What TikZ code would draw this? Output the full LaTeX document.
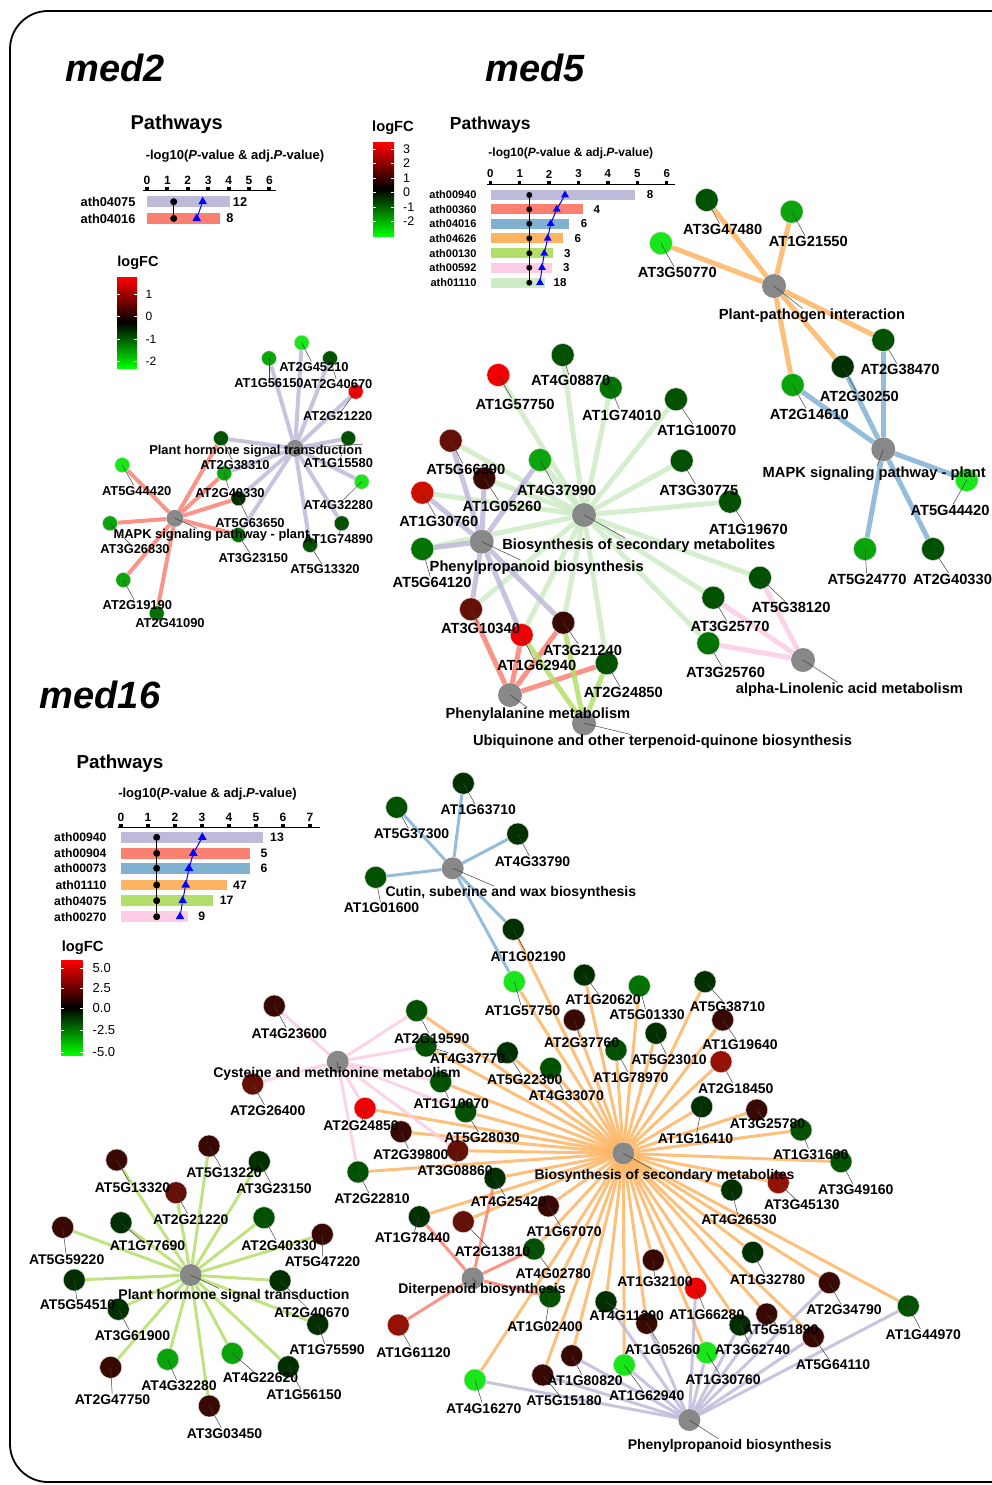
\documentclass[tikz,border=0pt]{standalone}
\usepackage{fontspec}
\setmainfont{Liberation Sans}
\usetikzlibrary{positioning,backgrounds,shapes.geometric}

% pathway palette
\definecolor{lav}{HTML}{BEBADA}
\definecolor{sal}{HTML}{FB8072}
\definecolor{blu}{HTML}{80B1D3}
\definecolor{ora}{HTML}{FDB462}
\definecolor{grn}{HTML}{B3DE69}
\definecolor{pnk}{HTML}{FCCDE5}
\definecolor{mnt}{HTML}{CCEBC5}
% logFC scale
\definecolor{gA}{RGB}{25,230,25}
\definecolor{gB}{RGB}{10,165,10}
\definecolor{gC}{RGB}{0,115,0}
\definecolor{gD}{RGB}{0,82,0}
\definecolor{gE}{RGB}{0,48,0}
\definecolor{rA}{RGB}{58,8,2}
\definecolor{rB}{RGB}{100,16,6}
\definecolor{rC}{RGB}{150,16,4}
\definecolor{rX}{RGB}{205,15,0}
\definecolor{rD}{RGB}{242,0,0}
\definecolor{pwgray}{RGB}{136,136,136}

\tikzset{
  gene/.style={circle, fill=#1, draw=white!70!gray, line width=0.5pt, inner sep=0pt},
  gtwo/.style={gene=#1, minimum size=15pt},
  gfive/.style={gene=#1, minimum size=23pt},
  gsix/.style={gene=#1, minimum size=22pt},
  pw/.style={circle, fill=pwgray, inner sep=0pt, minimum size=#1},
  labtwo/.style={font=\fontsize{12.9}{15}\selectfont\bfseries, inner sep=0.5pt},
  labfive/.style={font=\fontsize{14.7}{17}\selectfont\bfseries, inner sep=0.5pt},
  labsix/.style={font=\fontsize{14}{16}\selectfont\bfseries, inner sep=0.5pt},
  lead/.style={draw=black!75, line width=0.5pt},
  conn/.style={line width=#1, opacity=0.85},
  medtitle/.style={font=\fontsize{38}{40}\selectfont\bfseries\itshape},
  dot/.style={circle, fill=black, inner sep=0pt, minimum size=7pt},
  tri/.style={regular polygon, regular polygon sides=3, fill=blue, inner sep=0pt, minimum size=10pt},
  legval/.style={anchor=west, inner sep=0pt},
  fcbar/.style={top color=red, bottom color=green, middle color=black},
}

\begin{document}
\begin{tikzpicture}[x=1pt, y=-1pt]
\useasboundingbox (0,0) rectangle (992,1485);
\clip (0,0) rectangle (992,1485);
\draw[line width=1.8pt, rounded corners=38pt] (10,11) rectangle (1030,1482);

\node[medtitle] (t-med2) at (115,68) {med2};
\node[medtitle] (t-med5) at (535,68) {med5};
\node[medtitle] (t-med16) at (100,695) {med16};

% ---------------- med2 ----------------
\node[font=\fontsize{20}{22}\selectfont\bfseries] (m2-ttl) at (176.7,124) {Pathways};
\node[font=\fontsize{13}{15}\selectfont\bfseries] (m2-sub) at (235,155.7) {-log10(\textit{P}-value \& adj.\textit{P}-value)};
\draw[line width=1pt] (143,190.5) -- (276,190.5);
\foreach \n in {0,...,6} {
  \fill ({147+20.4*\n-2},186.5) rectangle ++(4,4);
  \node[font=\fontsize{12}{14}\selectfont\bfseries] at ({147+20.4*\n},180.5) {\n};
}
\foreach \lab/\y/\e/\cnt/\cx/\tx/\col in {ath04075/201.7/230/12/240/202.7/lav, ath04016/218.5/220/8/230/196.7/sal} {
  \fill[\col] (147,\y-5.5) rectangle (\e,\y+5.5);
  \node[font=\fontsize{12.8}{14}\selectfont\bfseries, anchor=east] (m2-r-\lab) at (139,\y) {\lab};
  \node[font=\fontsize{12.8}{14}\selectfont\bfseries] (m2-c-\lab) at (\cx,\y) {\cnt};
  \node[dot] (m2-d-\lab) at (173.7,\y) {};
  \node[tri] (m2-t-\lab) at (\tx,\y) {};
}
\draw[line width=1.2pt] (m2-d-ath04075) -- (m2-d-ath04016);
\draw[blue, line width=1pt] (m2-t-ath04075) -- (m2-t-ath04016);

\node[font=\fontsize{14.5}{16}\selectfont\bfseries] (m2-lfc) at (138,263) {logFC};
\shade[fcbar] (117,277) rectangle (137,368);
\foreach \v/\y in {1/294,0/316.5,-1/339,-2/361.5} {
  \draw[white, line width=0.4pt] (117,\y) -- (120,\y) (134,\y) -- (137,\y);
  \node[legval, font=\fontsize{12}{14}\selectfont] at (145.5,\y) {\v};
}

\def\genesTwo{AT2G45210/301.7/342.7/gA/314/366.7,%
AT1G56150/269/358.3/gB/269/383.3,%
AT2G40670/330/358.3/gD/337.7/384,%
AT2G21220/355.7/391.7/rD/337.7/416,%
AT2G38310/221/438.3/gD/235/465,%
AT2G40330/224.3/473.3/gB/230/493.3,%
AT5G63650/238.3/498.3/gE/250/522.7,%
AT3G23150/238.3/535/gC/253.3/558.3,%
AT1G15580/348.3/438.3/gD/338.3/463.3,%
AT4G32280/361.7/481.7/gA/338.3/505,%
AT1G74890/341.7/523.3/gD/338.3/539.3,%
AT5G13320/310/545/gD/325/569.3,%
AT5G44420/122.3/465/gA/136.7/490.7,%
AT3G26830/110/523.3/gB/135/549.3,%
AT2G19190/123.3/580/gB/137.3/605.3,%
AT2G41090/156.7/613.3/gC/170/622.7}
\foreach \gn/\x/\y/\c/\lx/\ly in \genesTwo
  \node[gtwo=\c] (m2-\gn) at (\x,\y) {};
\node[pw=17pt] (m2-PH) at (295,448.3) {};
\node[pw=17pt] (m2-MK) at (175,518.3) {};
\node[labtwo] (m2-PH-l) at (255.7,450.7) {Plant hormone signal transduction};
\node[labtwo] (m2-MK-l) at (211.5,535) {MAPK signaling pathway - plant};
\draw[lead] (m2-PH.center) -- (m2-PH-l);
\draw[lead] (m2-MK.center) -- (m2-MK-l);
\foreach \gn/\x/\y/\c/\lx/\ly in \genesTwo {
  \node[labtwo] (m2-\gn-l) at (\lx,\ly) {\gn};
  \draw[lead] (m2-\gn.center) -- (m2-\gn-l);
}
\begin{scope}[on background layer]
  \foreach \g in {AT2G45210,AT1G56150,AT2G40670,AT2G21220,AT2G38310,AT2G40330,AT5G63650,AT3G23150,AT1G15580,AT4G32280,AT1G74890,AT5G13320}
    \draw[conn=4pt, lav] (m2-PH) -- (m2-\g);
  \foreach \g in {AT5G44420,AT3G26830,AT2G19190,AT2G41090,AT2G38310,AT2G40330,AT5G63650,AT3G23150}
    \draw[conn=4pt, sal] (m2-MK) -- (m2-\g);
\end{scope}

% ---------------- med5 ----------------
\node[font=\fontsize{14.7}{16}\selectfont\bfseries] (m5-lfc) at (393,128) {logFC};
\shade[fcbar] (373,142) rectangle (394,236);
\foreach \v/\y in {3/149.3,2/163.3,1/177.7,0/191.7,-1/206.7,-2/221} {
  \draw[white, line width=0.4pt] (373,\y) -- (376,\y) (391,\y) -- (394,\y);
  \node[legval, font=\fontsize{12.5}{13}\selectfont] at (403,\y) {\v};
}
\node[font=\fontsize{17.5}{20}\selectfont\bfseries] (m5-ttl) at (490.3,125) {Pathways};
\node[font=\fontsize{12}{14}\selectfont\bfseries] (m5-sub) at (570.8,153.3) {-log10(\textit{P}-value \& adj.\textit{P}-value)};
\draw[line width=1pt] (487,184) -- (675,184);
\foreach \n in {0,...,6} {
  \fill ({490.3+29.4*\n-1.75},180.5) rectangle ++(3.5,3.5);
  \node[font=\fontsize{11.5}{13}\selectfont\bfseries] at ({490.3+29.4*\n},174) {\n};
}
\foreach \lab/\y/\e/\cnt/\cx/\tx/\col in {ath00940/195/635/8/650/565/lav, ath00360/209.3/582.7/4/596.7/556.7/sal, ath04016/223.7/569.3/6/584/550.7/blu, ath04626/238.3/563.3/6/577.7/547.7/ora, ath00130/253.3/552.7/3/567.3/544.3/grn, ath00592/267.7/551.7/3/566.3/542/pnk, ath01110/282.7/545.3/18/560/540/mnt} {
  \fill[\col] (490.5,\y-5) rectangle (\e,\y+5);
  \node[font=\fontsize{11}{13}\selectfont\bfseries, anchor=east] (m5-r-\lab) at (480,\y) {\lab};
  \node[font=\fontsize{11.5}{13}\selectfont\bfseries] (m5-c-\lab) at (\cx,\y) {\cnt};
  \node[dot, minimum size=6pt] (m5-d-\lab) at (529.3,\y) {};
  \node[tri, minimum size=9pt] (m5-t-\lab) at (\tx,\y) {};
}
\draw[line width=1.2pt] (m5-d-ath00940) -- (m5-d-ath01110);
\draw[blue, line width=1pt] (m5-t-ath00940) -- (m5-t-ath00360) -- (m5-t-ath04016) -- (m5-t-ath04626) -- (m5-t-ath00130) -- (m5-t-ath00592) -- (m5-t-ath01110);

\def\genesFive{AT3G47480/706.7/200/gD/722.7/229.3,%
AT1G21550/791.7/211.7/gB/808.3/241.7,%
AT3G50770/661/243.3/gA/677.3/272.7,%
AT2G38470/883.3/340/gD/900/369.3,%
AT2G30250/842.7/366.7/gE/859.3/396.7,%
AT2G14610/792.7/385/gB/809.3/414.3,%
AT5G44420/966.7/480/gA/950/510,%
AT5G24770/865/549/gB/867/579,%
AT2G40330/933/549/gD/952.5/579,%
AT4G08870/562.7/355/gD/570.7/380.7,%
AT1G57750/498.3/375/rD/515/404,%
AT1G74010/610.7/387.7/gC/621.7/415,%
AT1G10070/676/399.3/gD/696.7/430,%
AT5G66390/450.7/440.7/rB/465.8/469.3,%
AT1G05260/484.3/478.3/rA/502/506,%
AT4G37990/540/460/gB/556.7/490,%
AT1G30760/422.3/492.7/rX/438.8/521.7,%
AT3G30775/681.7/460.7/gD/698.8/490,%
AT1G19670/730/501.7/gD/748.3/529.3,%
AT5G64120/422.3/549/gC/432/582.7,%
AT3G10340/471/609.3/rB/480.5/628.3,%
AT1G62940/521.7/635/rD/536.7/665,%
AT3G21240/563.3/622.7/rA/582.5/650,%
AT2G24850/606.7/663.3/gD/623.3/692.7,%
AT5G38120/760/577.7/gD/791/607,%
AT3G25770/713.3/597.7/gD/730/626.7,%
AT3G25760/708.3/643.3/gC/725.5/672.7}
\foreach \gn/\x/\y/\c/\lx/\ly in \genesFive
  \node[gfive=\c] (m5-\gn) at (\x,\y) {};
\foreach \p/\x/\y/\lx/\ly/\txt in {PPI/774/286/812/316/Plant-pathogen interaction, MK/883.3/449.3/874.2/474/MAPK signaling pathway - plant, BS/584/515/638.8/545.7/Biosynthesis of secondary metabolites, PP/481.7/541.7/536.7/567.7/Phenylpropanoid biosynthesis, PA/510/695/538/715/Phenylalanine metabolism, UQ/584/723.3/662.5/742/Ubiquinone and other terpenoid-quinone biosynthesis, AL/803/660/849.5/690/alpha-Linolenic acid metabolism} {
  \node[pw=24pt] (m5-\p) at (\x,\y) {};
}
\foreach \p/\x/\y/\lx/\ly/\txt in {PPI/774/286/812/316/Plant-pathogen interaction, MK/883.3/449.3/874.2/474/MAPK signaling pathway - plant, BS/584/515/638.8/545.7/Biosynthesis of secondary metabolites, PP/481.7/541.7/536.7/567.7/Phenylpropanoid biosynthesis, PA/510/695/538/715/Phenylalanine metabolism, UQ/584/723.3/662.5/742/Ubiquinone and other terpenoid-quinone biosynthesis, AL/803/660/849.5/690/alpha-Linolenic acid metabolism} {
  \node[labfive] (m5-\p-l) at (\lx,\ly) {\txt};
  \draw[lead] (m5-\p.center) -- (m5-\p-l);
}
\foreach \gn/\x/\y/\c/\lx/\ly in \genesFive {
  \node[labfive] (m5-\gn-l) at (\lx,\ly) {\gn};
  \draw[lead] (m5-\gn.center) -- (m5-\gn-l);
}
\begin{scope}[on background layer]
  \foreach \g in {AT4G08870,AT1G57750,AT1G74010,AT1G10070,AT5G66390,AT1G05260,AT4G37990,AT1G30760,AT3G30775,AT1G19670,AT5G64120,AT3G10340,AT1G62940,AT3G21240,AT2G24850,AT5G38120,AT3G25770,AT3G25760}
    \draw[conn=5pt, mnt] (m5-BS) -- (m5-\g);
  \foreach \g in {AT5G66390,AT1G05260,AT4G37990,AT1G30760,AT5G64120,AT3G10340,AT1G62940,AT3G21240}
    \draw[conn=5pt, lav] (m5-PP) -- (m5-\g);
  \foreach \g in {AT3G10340,AT1G62940,AT3G21240,AT2G24850}
    \draw[conn=5pt, sal] (m5-PA) -- (m5-\g);
  \foreach \g in {AT1G62940,AT3G21240,AT2G24850}
    \draw[conn=5pt, grn] (m5-UQ) -- (m5-\g);
  \foreach \g in {AT5G38120,AT3G25770,AT3G25760}
    \draw[conn=5pt, pnk] (m5-AL) -- (m5-\g);
  \foreach \g in {AT3G47480,AT1G21550,AT3G50770,AT2G38470,AT2G30250,AT2G14610}
    \draw[conn=5pt, ora] (m5-PPI) -- (m5-\g);
  \foreach \g in {AT2G38470,AT2G30250,AT2G14610,AT5G44420,AT5G24770,AT2G40330}
    \draw[conn=5pt, blu] (m5-MK) -- (m5-\g);
\end{scope}

% ---------------- med16 ----------------
\node[font=\fontsize{18.8}{21}\selectfont\bfseries] (m16-ttl) at (120,764) {Pathways};
\node[font=\fontsize{13}{15}\selectfont\bfseries] (m16-sub) at (207.5,794) {-log10(\textit{P}-value \& adj.\textit{P}-value)};
\draw[line width=1pt] (118,827.3) -- (320,827.3);
\foreach \n in {0,...,7} {
  \fill ({121+27*\n-1.75},823.8) rectangle ++(3.5,3.5);
  \node[font=\fontsize{12}{14}\selectfont\bfseries] at ({121+27*\n},817.5) {\n};
}
\foreach \lab/\y/\e/\cnt/\cx/\tx/\col in {ath00940/837.3/263.3/13/277/202.3/lav, ath00904/853.3/250/5/264/193.3/sal, ath00073/868.3/250/6/264/189/blu, ath01110/885/226.7/47/240/185.7/ora, ath04075/900.7/213.3/17/226.7/182.7/grn, ath00270/916.7/187.7/9/201.7/180/pnk} {
  \fill[\col] (121,\y-5.3) rectangle (\e,\y+5.3);
  \node[font=\fontsize{12.2}{14}\selectfont\bfseries, anchor=east] (m16-r-\lab) at (110,\y) {\lab};
  \node[font=\fontsize{12.2}{14}\selectfont\bfseries] (m16-c-\lab) at (\cx,\y) {\cnt};
  \node[dot] (m16-d-\lab) at (156.7,\y) {};
  \node[tri] (m16-t-\lab) at (\tx,\y) {};
}
\draw[line width=1.2pt] (m16-d-ath00940) -- (m16-d-ath00270);
\draw[blue, line width=1pt] (m16-t-ath00940) -- (m16-t-ath00904) -- (m16-t-ath00073) -- (m16-t-ath01110) -- (m16-t-ath04075) -- (m16-t-ath00270);

\node[font=\fontsize{14.7}{16}\selectfont\bfseries] (m16-lfc) at (82.7,947.3) {logFC};
\shade[fcbar] (61,960) rectangle (82.7,1055);
\foreach \v/\y in {5.0/967.7,2.5/988,0.0/1008,-2.5/1030,-5.0/1051.7} {
  \draw[white, line width=0.4pt] (61,\y) -- (64,\y) (79.7,\y) -- (82.7,\y);
  \node[legval, font=\fontsize{13}{15}\selectfont] at (92.5,\y) {\v};
}

\def\genesSix{AT1G63710/463.3/783.3/gE/478.3/810,%
AT5G37300/396.7/807.3/gD/411.5/834,%
AT4G33790/517.7/834/gE/532.5/861.7,%
AT1G01600/375.7/877.3/gD/381.5/907.7,%
AT1G02190/513.3/929.3/gE/528.3/956.7,%
AT1G57750/514.3/981.7/gA/522.5/1010.7,%
AT4G23600/274.3/1006/rA/289.3/1033.3,%
AT2G26400/252.7/1084/rB/267.7/1110.7,%
AT2G19590/416.7/1010.7/gD/431.7/1038.3,%
AT4G37770/426/1046/gD/467.5/1058.3,%
AT1G10070/440.7/1081.7/gD/451.3/1104,%
AT2G24850/365/1108.3/rD/361/1125.7,%
AT5G28030/465.7/1111.7/gD/482/1137.7,%
AT2G39800/401/1131.7/rA/410.8/1154.3,%
AT3G08860/457.7/1150.7/rB/455/1170.7,%
AT5G22300/507.3/1052.7/gE/524.8/1080,%
AT4G33070/550.7/1068.3/gD/566.2/1096,%
AT2G22810/358/1172/gD/372/1199,%
AT2G37760/574.3/1020/rA/581.7/1042.7,%
AT1G20620/584.3/975/gE/603/1000,%
AT5G01330/639.3/986/gC/647/1015,%
AT5G38710/705/981.7/gE/727.5/1006.7,%
AT1G78970/616/1050/gD/630.8/1077.3,%
AT5G23010/656/1033.3/gE/669/1060,%
AT1G19640/722.7/1020/rA/740/1045,%
AT2G18450/721/1061.7/rC/735.8/1088.3,%
AT1G16410/701.7/1106.7/gE/695.5/1139,%
AT3G25780/756.7/1110/rA/767.5/1123.3,%
AT1G31690/801/1130/gD/810.8/1154.3,%
AT3G49160/841/1161.7/gD/855.8/1189.3,%
AT3G45130/778.3/1182.7/rC/801.7/1205,%
AT4G26530/731.7/1190/gE/739/1220,%
AT1G32780/752.7/1252.3/gE/767.5/1280,%
AT1G32100/653.3/1260/rA/655/1281.7,%
AT1G66280/695.7/1288.3/rD/706.7/1314.3,%
AT2G34790/829.3/1282.7/rA/844/1310,%
AT1G44970/908.3/1306/gD/923.3/1334.3,%
AT4G11290/606/1301.7/gE/626.7/1316,%
AT1G05260/646.7/1323.3/rA/662.5/1349.3,%
AT5G51890/766.7/1314/rA/780.8/1329.3,%
AT3G62740/740/1325/gE/752.5/1350,%
AT5G64110/813.3/1336.7/rA/833/1365,%
AT1G30760/706.7/1352.7/gA/723/1380,%
AT1G62940/624.3/1365/gA/646.7/1395.7,%
AT4G25420/495/1178.3/gE/508.3/1201.7,%
AT1G67070/548.3/1206/rA/564/1231.7,%
AT1G78440/419.3/1216.7/gE/412.5/1237.3,%
AT2G13810/463.3/1221.7/rB/492.5/1251.7,%
AT4G02780/534/1249/gD/553.3/1274,%
AT1G02400/550/1296.7/gD/545/1326.7,%
AT1G61120/398.3/1325/rC/413.5/1352.3,%
AT4G16270/475/1380/gA/483.8/1408.3,%
AT5G15180/542.7/1375/rA/564/1400.7,%
AT1G80820/571.7/1355.7/rA/585/1380.7,%
AT5G13320/116.7/1160/rA/132.5/1187.7,%
AT5G13220/209/1146/rA/224/1172.7,%
AT3G23150/259.3/1161.7/gE/274/1189,%
AT2G21220/176/1192.7/rB/190.8/1219.3,%
AT1G77690/121/1222.7/gE/147.5/1245.7,%
AT5G59220/62.7/1227.3/rA/66.7/1259.3,%
AT2G40330/264/1217.7/gD/279/1245.7,%
AT5G47220/322.3/1234.3/rA/322.5/1261.7,%
AT5G54510/74.3/1280/gE/77.5/1305,%
AT2G40670/280/1280.7/gE/311.7/1312.3,%
AT3G61900/118.3/1309.3/gE/132.5/1336,%
AT1G75590/317.7/1324.3/gE/327/1350,%
AT2G47750/110.7/1367.3/rA/112.5/1400,%
AT4G32280/167.7/1359.3/gB/179/1385.7,%
AT4G22620/232.3/1353.3/gB/260.5/1377.7,%
AT1G56150/288.3/1366.7/gE/304/1395,%
AT3G03450/209.3/1406/rA/224.5/1433.3}
\foreach \gn/\x/\y/\c/\lx/\ly in \genesSix
  \node[gsix=\c] (m16-\gn) at (\x,\y) {};
\foreach \p/\x/\y/\lx/\ly/\txt in {CW/452.7/868.3/510.8/893.3/{Cutin, suberine and wax biosynthesis}, CM/337.7/1061.7/337/1074.3/Cysteine and methionine metabolism, BS/623.3/1153.3/664.5/1176/Biosynthesis of secondary metabolites, DT/472.7/1278.3/482/1290/Diterpenoid biosynthesis, PH/190.7/1275/234/1295.7/Plant hormone signal transduction, PP/689.3/1420/729.7/1446/Phenylpropanoid biosynthesis}
  \node[pw=22pt] (m16-\p) at (\x,\y) {};
\foreach \p/\x/\y/\lx/\ly/\txt in {CW/452.7/868.3/510.8/893.3/{Cutin, suberine and wax biosynthesis}, CM/337.7/1061.7/337/1074.3/Cysteine and methionine metabolism, BS/623.3/1153.3/664.5/1176/Biosynthesis of secondary metabolites, DT/472.7/1278.3/482/1290/Diterpenoid biosynthesis, PH/190.7/1275/234/1295.7/Plant hormone signal transduction, PP/689.3/1420/729.7/1446/Phenylpropanoid biosynthesis} {
  \node[labsix] (m16-\p-l) at (\lx,\ly) {\txt};
  \draw[lead] (m16-\p.center) -- (m16-\p-l);
}
\foreach \gn/\x/\y/\c/\lx/\ly in \genesSix {
  \node[labsix] (m16-\gn-l) at (\lx,\ly) {\gn};
  \draw[lead] (m16-\gn.center) -- (m16-\gn-l);
}
\begin{scope}[on background layer]
  \foreach \g in {AT1G02190,AT1G57750,AT1G20620,AT5G01330,AT5G38710,AT2G37760,AT1G78970,AT5G23010,AT1G19640,AT2G18450,AT1G16410,AT3G25780,AT1G31690,AT3G49160,AT3G45130,AT4G26530,AT1G32780,AT1G32100,AT1G66280,AT2G34790,AT1G44970,AT5G51890,AT5G64110,AT3G62740,AT1G30760,AT1G05260,AT1G62940,AT4G11290,AT1G80820,AT5G15180,AT4G16270,AT1G02400,AT4G02780,AT1G67070,AT4G25420,AT2G13810,AT1G78440,AT2G22810,AT3G08860,AT2G39800,AT5G28030,AT1G10070,AT4G37770,AT2G19590,AT5G22300,AT4G33070,AT2G24850}
    \draw[conn=3pt, ora] (m16-BS) -- (m16-\g);
  \foreach \g in {AT1G63710,AT5G37300,AT4G33790,AT1G01600,AT1G02190,AT1G57750}
    \draw[conn=3pt, blu] (m16-CW) -- (m16-\g);
  \foreach \g in {AT4G23600,AT2G26400,AT2G19590,AT4G37770,AT1G10070,AT2G24850,AT5G28030,AT3G08860,AT2G22810}
    \draw[conn=3pt, pnk] (m16-CM) -- (m16-\g);
  \foreach \g in {AT1G78440,AT4G25420,AT4G02780,AT1G02400,AT1G61120}
    \draw[conn=3pt, sal] (m16-DT) -- (m16-\g);
  \foreach \g in {AT5G13320,AT5G13220,AT3G23150,AT2G21220,AT1G77690,AT5G59220,AT2G40330,AT5G47220,AT5G54510,AT2G40670,AT3G61900,AT1G75590,AT2G47750,AT4G32280,AT4G22620,AT1G56150,AT3G03450}
    \draw[conn=3pt, grn] (m16-PH) -- (m16-\g);
  \foreach \g in {AT4G16270,AT5G15180,AT1G80820,AT1G62940,AT1G05260,AT4G11290,AT1G30760,AT3G62740,AT5G64110,AT2G34790,AT1G44970,AT1G66280,AT5G51890}
    \draw[conn=3pt, lav] (m16-PP) -- (m16-\g);
\end{scope}
\end{tikzpicture}
\end{document}
